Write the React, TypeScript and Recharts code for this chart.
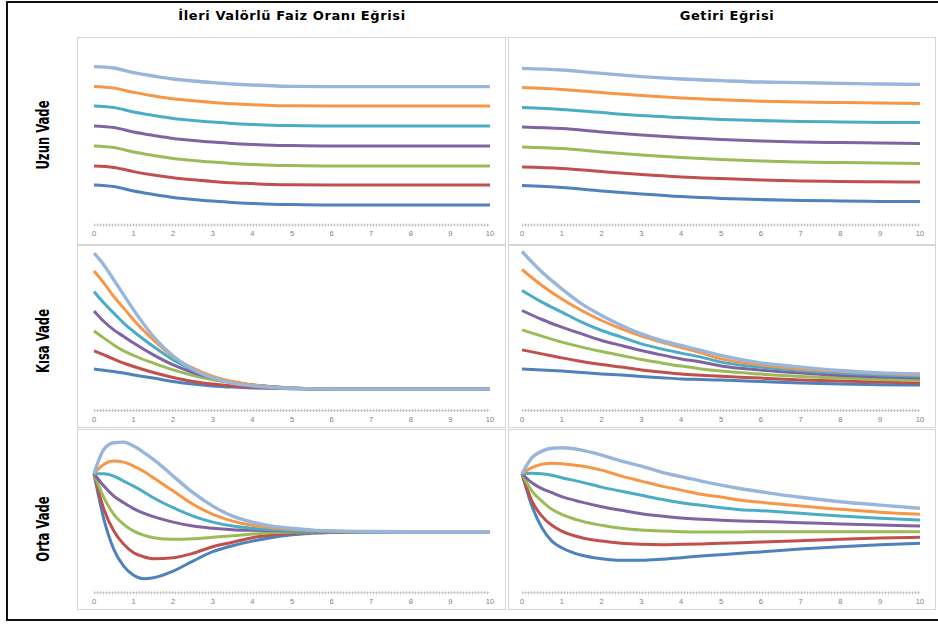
import React from 'react';
import { LineChart, Line, XAxis, YAxis, ReferenceLine } from 'recharts';

// ---------- DATA (arbitrary rate units) ----------
const xTicks = [0, 1, 2, 3, 4, 5, 6, 7, 8, 9, 10];

// Uzun Vade – İleri Valörlü Faiz Oranı Eğrisi
const uzunIleriX = [0, 0.5, 1, 1.5, 2, 2.5, 3, 3.5, 4, 4.5, 5, 6, 7, 8, 9, 10];
const uzunIleriBlue = [2.0, 1.92, 1.7, 1.53, 1.38, 1.28, 1.2, 1.13, 1.08, 1.04, 1.02, 1.0, 1.0, 1.0, 1.0, 1.0];
const uzunIleriRed = [2.95, 2.88, 2.67, 2.5, 2.36, 2.26, 2.18, 2.11, 2.07, 2.03, 2.01, 2.0, 2.0, 2.0, 2.0, 2.0];
const uzunIleriGreen = [3.95, 3.87, 3.65, 3.48, 3.33, 3.23, 3.15, 3.08, 3.03, 2.99, 2.97, 2.95, 2.95, 2.95, 2.95, 2.95];
const uzunIleriPurple = [4.95, 4.87, 4.65, 4.48, 4.33, 4.23, 4.15, 4.08, 4.03, 3.99, 3.97, 3.95, 3.95, 3.95, 3.95, 3.95];
const uzunIleriTeal = [5.95, 5.87, 5.65, 5.48, 5.33, 5.23, 5.15, 5.08, 5.03, 4.99, 4.97, 4.95, 4.95, 4.95, 4.95, 4.95];
const uzunIleriOrange = [6.93, 6.85, 6.63, 6.46, 6.31, 6.21, 6.13, 6.06, 6.01, 5.98, 5.96, 5.95, 5.95, 5.95, 5.95, 5.95];
const uzunIleriLightBlue = [7.92, 7.85, 7.62, 7.45, 7.3, 7.2, 7.12, 7.05, 7.0, 6.96, 6.93, 6.92, 6.92, 6.92, 6.92, 6.92];

// Uzun Vade – Getiri Eğrisi
const uzunGetiriX = [0, 1, 2, 3, 4, 5, 6, 7, 8, 9, 10];
const uzunGetiriBlue = [1.97, 1.87, 1.7, 1.55, 1.42, 1.33, 1.27, 1.23, 1.2, 1.18, 1.17];
const uzunGetiriRed = [2.9, 2.83, 2.67, 2.52, 2.4, 2.32, 2.25, 2.2, 2.18, 2.16, 2.15];
const uzunGetiriGreen = [3.9, 3.82, 3.65, 3.5, 3.38, 3.28, 3.2, 3.15, 3.12, 3.1, 3.08];
const uzunGetiriPurple = [4.9, 4.82, 4.65, 4.5, 4.38, 4.28, 4.2, 4.15, 4.12, 4.1, 4.08];
const uzunGetiriTeal = [5.88, 5.78, 5.62, 5.47, 5.37, 5.28, 5.22, 5.18, 5.15, 5.13, 5.12];
const uzunGetiriOrange = [6.87, 6.78, 6.62, 6.47, 6.35, 6.26, 6.19, 6.15, 6.12, 6.1, 6.08];
const uzunGetiriLightBlue = [7.83, 7.75, 7.58, 7.42, 7.3, 7.22, 7.15, 7.12, 7.08, 7.05, 7.03];

// Kısa Vade – İleri Valörlü Faiz Oranı Eğrisi
const kisaIleriX = [0, 0.25, 0.5, 0.75, 1, 1.5, 2, 2.5, 3, 3.5, 4, 4.5, 5, 5.5, 6, 7, 8, 9, 10];
const kisaIleriBlue = [2.07, 2.01, 1.95, 1.87, 1.78, 1.62, 1.45, 1.32, 1.23, 1.17, 1.13, 1.11, 1.09, 1.08, 1.07, 1.07, 1.07, 1.07, 1.07];
const kisaIleriRed = [2.98, 2.78, 2.57, 2.37, 2.2, 1.9, 1.65, 1.45, 1.32, 1.23, 1.17, 1.13, 1.1, 1.08, 1.07, 1.07, 1.07, 1.07, 1.07];
const kisaIleriGreen = [3.98, 3.62, 3.28, 2.98, 2.75, 2.37, 2.03, 1.75, 1.53, 1.38, 1.27, 1.19, 1.13, 1.09, 1.08, 1.07, 1.07, 1.07, 1.07];
const kisaIleriPurple = [4.98, 4.45, 4.03, 3.7, 3.37, 2.78, 2.28, 1.9, 1.62, 1.42, 1.28, 1.19, 1.13, 1.09, 1.08, 1.07, 1.07, 1.07, 1.07];
const kisaIleriTeal = [5.95, 5.37, 4.87, 4.37, 3.95, 3.2, 2.53, 2.03, 1.65, 1.42, 1.27, 1.18, 1.12, 1.09, 1.08, 1.07, 1.07, 1.07, 1.07];
const kisaIleriOrange = [6.98, 6.37, 5.7, 5.12, 4.53, 3.53, 2.68, 2.12, 1.7, 1.45, 1.28, 1.18, 1.12, 1.09, 1.08, 1.07, 1.07, 1.07, 1.07];
const kisaIleriLightBlue = [7.87, 7.28, 6.53, 5.78, 5.03, 3.7, 2.72, 2.05, 1.63, 1.37, 1.23, 1.15, 1.1, 1.08, 1.07, 1.07, 1.07, 1.07, 1.07];

// Kısa Vade – Getiri Eğrisi
const kisaGetiriX = [0, 0.5, 1, 1.5, 2, 2.5, 3, 3.5, 4, 4.5, 5, 6, 7, 8, 9, 10];
const kisaGetiriBlue = [2.08, 2.03, 1.97, 1.9, 1.83, 1.77, 1.7, 1.64, 1.58, 1.55, 1.52, 1.45, 1.38, 1.33, 1.29, 1.27];
const kisaGetiriRed = [3.03, 2.83, 2.63, 2.45, 2.3, 2.17, 2.03, 1.92, 1.82, 1.76, 1.71, 1.62, 1.53, 1.47, 1.42, 1.38];
const kisaGetiriGreen = [4.03, 3.72, 3.42, 3.17, 2.95, 2.75, 2.55, 2.38, 2.22, 2.08, 1.97, 1.82, 1.7, 1.62, 1.55, 1.5];
const kisaGetiriPurple = [5.0, 4.55, 4.17, 3.83, 3.5, 3.25, 3.0, 2.78, 2.58, 2.42, 2.23, 2.02, 1.87, 1.75, 1.68, 1.63];
const kisaGetiriTeal = [6.0, 5.42, 4.92, 4.42, 4.0, 3.67, 3.33, 3.08, 2.87, 2.67, 2.42, 2.17, 2.0, 1.87, 1.78, 1.72];
const kisaGetiriOrange = [7.05, 6.25, 5.58, 5.0, 4.5, 4.08, 3.72, 3.42, 3.15, 2.88, 2.58, 2.28, 2.08, 1.95, 1.85, 1.78];
const kisaGetiriLightBlue = [7.95, 6.92, 6.08, 5.33, 4.75, 4.25, 3.83, 3.5, 3.25, 3.0, 2.75, 2.38, 2.17, 2.0, 1.88, 1.83];

// Orta Vade – İleri Valörlü Faiz Oranı Eğrisi
const ortaIleriX = [0, 0.25, 0.5, 0.75, 1, 1.25, 1.5, 2, 2.5, 3, 3.5, 4, 4.5, 5, 5.5, 6, 7, 8, 9, 10];
const ortaIleriBlue = [5.95, 3.67, 2.17, 1.33, 0.87, 0.7, 0.75, 1.08, 1.58, 2.05, 2.35, 2.58, 2.76, 2.9, 2.97, 3.01, 3.04, 3.05, 3.05, 3.05];
const ortaIleriRed = [5.95, 4.17, 3.08, 2.42, 2.0, 1.8, 1.7, 1.75, 1.97, 2.3, 2.52, 2.75, 2.88, 2.97, 3.01, 3.03, 3.05, 3.05, 3.05, 3.05];
const ortaIleriGreen = [5.95, 4.75, 3.92, 3.42, 3.08, 2.88, 2.75, 2.67, 2.7, 2.77, 2.85, 2.93, 3.0, 3.03, 3.04, 3.05, 3.05, 3.05, 3.05, 3.05];
const ortaIleriPurple = [5.95, 5.33, 4.83, 4.5, 4.2, 3.98, 3.8, 3.53, 3.33, 3.22, 3.15, 3.12, 3.1, 3.08, 3.07, 3.06, 3.05, 3.05, 3.05, 3.05];
const ortaIleriTeal = [5.95, 5.95, 5.83, 5.58, 5.33, 5.05, 4.75, 4.25, 3.83, 3.53, 3.33, 3.22, 3.15, 3.1, 3.08, 3.07, 3.05, 3.05, 3.05, 3.05];
const ortaIleriOrange = [5.95, 6.42, 6.58, 6.53, 6.33, 6.07, 5.75, 5.08, 4.42, 3.92, 3.58, 3.37, 3.25, 3.17, 3.12, 3.09, 3.06, 3.05, 3.05, 3.05];
const ortaIleriLightBlue = [5.95, 7.17, 7.5, 7.53, 7.33, 7.02, 6.67, 5.83, 5.0, 4.33, 3.83, 3.53, 3.33, 3.22, 3.13, 3.09, 3.06, 3.05, 3.05, 3.05];

// Orta Vade – Getiri Eğrisi
const ortaGetiriX = [0, 0.25, 0.5, 0.75, 1, 1.5, 2, 2.5, 3, 3.5, 4, 4.5, 5, 5.5, 6, 7, 8, 9, 10];
const ortaGetiriBlue = [5.95, 4.33, 3.25, 2.58, 2.25, 1.87, 1.7, 1.62, 1.62, 1.67, 1.75, 1.83, 1.9, 1.97, 2.04, 2.18, 2.3, 2.4, 2.47];
const ortaGetiriRed = [5.95, 4.58, 3.83, 3.37, 3.08, 2.75, 2.58, 2.47, 2.42, 2.4, 2.42, 2.44, 2.47, 2.5, 2.53, 2.6, 2.67, 2.73, 2.77];
const ortaGetiriGreen = [5.95, 5.08, 4.58, 4.17, 3.92, 3.58, 3.37, 3.22, 3.13, 3.08, 3.05, 3.04, 3.04, 3.04, 3.05, 3.05, 3.05, 3.05, 3.05];
const ortaGetiriPurple = [5.95, 5.5, 5.2, 5.0, 4.8, 4.53, 4.3, 4.12, 3.95, 3.83, 3.73, 3.67, 3.62, 3.59, 3.56, 3.5, 3.44, 3.38, 3.33];
const ortaGetiriTeal = [5.95, 5.97, 5.95, 5.87, 5.75, 5.53, 5.28, 5.07, 4.87, 4.67, 4.5, 4.37, 4.25, 4.15, 4.1, 3.97, 3.83, 3.72, 3.63];
const ortaGetiriOrange = [5.95, 6.25, 6.42, 6.47, 6.45, 6.33, 6.13, 5.83, 5.58, 5.33, 5.13, 4.92, 4.78, 4.62, 4.52, 4.33, 4.17, 4.02, 3.92];
const ortaGetiriLightBlue = [5.95, 6.75, 7.08, 7.22, 7.25, 7.13, 6.88, 6.58, 6.33, 6.03, 5.8, 5.58, 5.38, 5.2, 5.05, 4.77, 4.55, 4.38, 4.22];

const columnTitles = ['İleri Valörlü Faiz Oranı Eğrisi', 'Getiri Eğrisi'];
const rowTitles = ['Uzun Vade', 'Kısa Vade', 'Orta Vade'];

// ---------- STYLE / LAYOUT ----------
const SERIES = [
  { key: 'blue', color: '#4F81BD' },
  { key: 'red', color: '#C0504D' },
  { key: 'green', color: '#9BBB59' },
  { key: 'purple', color: '#8064A2' },
  { key: 'teal', color: '#4BACC6' },
  { key: 'orange', color: '#F79646' },
  { key: 'lightBlue', color: '#98B6DC' },
];

function build(x: number[], s: number[][]) {
  return x.map((xv, i) => ({
    x: xv,
    blue: s[0][i],
    red: s[1][i],
    green: s[2][i],
    purple: s[3][i],
    teal: s[4][i],
    orange: s[5][i],
    lightBlue: s[6][i],
  }));
}

const panelData = [
  [
    build(uzunIleriX, [uzunIleriBlue, uzunIleriRed, uzunIleriGreen, uzunIleriPurple, uzunIleriTeal, uzunIleriOrange, uzunIleriLightBlue]),
    build(uzunGetiriX, [uzunGetiriBlue, uzunGetiriRed, uzunGetiriGreen, uzunGetiriPurple, uzunGetiriTeal, uzunGetiriOrange, uzunGetiriLightBlue]),
  ],
  [
    build(kisaIleriX, [kisaIleriBlue, kisaIleriRed, kisaIleriGreen, kisaIleriPurple, kisaIleriTeal, kisaIleriOrange, kisaIleriLightBlue]),
    build(kisaGetiriX, [kisaGetiriBlue, kisaGetiriRed, kisaGetiriGreen, kisaGetiriPurple, kisaGetiriTeal, kisaGetiriOrange, kisaGetiriLightBlue]),
  ],
  [
    build(ortaIleriX, [ortaIleriBlue, ortaIleriRed, ortaIleriGreen, ortaIleriPurple, ortaIleriTeal, ortaIleriOrange, ortaIleriLightBlue]),
    build(ortaGetiriX, [ortaGetiriBlue, ortaGetiriRed, ortaGetiriGreen, ortaGetiriPurple, ortaGetiriTeal, ortaGetiriOrange, ortaGetiriLightBlue]),
  ],
];

const COLS = [
  { x: 77, w: 429, plotL: 94, plotR: 490, titleCx: 292 },
  { x: 508, w: 428, plotL: 522, plotR: 920, titleCx: 727 },
];
const ROWS = [
  { y: 37, h: 208, plotTop: 45, axisY: 225, yMax: 9, labelCy: 135 },
  { y: 245, h: 183, plotTop: 246.5, axisY: 410.5, yMax: 8.2, labelCy: 341 },
  { y: 429, h: 181, plotTop: 432.7, axisY: 592.7, yMax: 8, labelCy: 529 },
];

function Panel({ data, col, row }: any) {
  const margin = {
    top: row.plotTop - row.y,
    left: col.plotL - col.x,
    right: col.x + col.w - col.plotR,
    bottom: 0,
  };
  return (
    <>
      <div style={{ position: 'absolute', left: col.x, top: row.y }}>
        <LineChart width={col.w} height={row.h} data={data} margin={margin}>
          <YAxis hide domain={[0, row.yMax]} type="number" allowDataOverflow />
          <XAxis
            dataKey="x"
            type="number"
            domain={[0, 10]}
            ticks={xTicks}
            interval={0}
            height={row.y + row.h - row.axisY}
            tickLine={false}
            tickSize={4}
            axisLine={{ stroke: '#c4c4c4', strokeWidth: 3, strokeDasharray: '1 2' }}
            tick={{ fontSize: 7.5, fill: '#808080', fontFamily: 'Liberation Sans, Arial, sans-serif' }}
          />
          <ReferenceLine y={0} stroke="#d4d4d4" strokeWidth={1} />
          {SERIES.map((s) => (
            <Line
              key={s.key}
              type="monotone"
              dataKey={s.key}
              stroke={s.color}
              strokeWidth={s.key === 'lightBlue' ? 3.4 : 3}
              dot={false}
              isAnimationActive={false}
            />
          ))}
        </LineChart>
      </div>
      <div
        style={{
          position: 'absolute',
          left: col.x,
          top: row.y,
          width: col.w,
          height: row.h,
          border: '1px solid #d6d6d6',
          boxSizing: 'border-box',
          pointerEvents: 'none',
        }}
      />
    </>
  );
}

export default function App() {
  return (
    <div
      style={{
        position: 'absolute',
        left: 0,
        top: 0,
        width: 938,
        height: 624,
        background: '#fff',
        overflow: 'hidden',
      }}
    >
      <div
        style={{
          position: 'absolute',
          left: 6,
          top: 1,
          width: 940,
          height: 616,
          border: '2px solid #111',
        }}
      />
      {columnTitles.map((t, i) => (
        <div
          key={t}
          style={{
            position: 'absolute',
            left: COLS[i].titleCx - 200,
            top: 7,
            width: 400,
            textAlign: 'center',
            fontFamily: 'DejaVu Sans, Verdana, sans-serif',
            fontWeight: 'bold',
            fontSize: 13,
            letterSpacing: 0.6,
            lineHeight: '18px',
            color: '#000',
          }}
        >
          {t}
        </div>
      ))}
      {rowTitles.map((t, i) => (
        <div
          key={t}
          style={{
            position: 'absolute',
            left: 43 - 60,
            top: ROWS[i].labelCy - 11,
            width: 120,
            height: 22,
            lineHeight: '22px',
            textAlign: 'center',
            transform: 'rotate(-90deg) scaleX(0.76)',
            fontFamily: "'Liberation Sans Narrow', 'Arial Narrow', 'DejaVu Sans Condensed', sans-serif",
            fontWeight: 'bold',
            fontSize: 17,
            color: '#000',
          }}
        >
          {t}
        </div>
      ))}
      {ROWS.map((row, ri) =>
        COLS.map((col, ci) => <Panel key={`${ri}-${ci}`} data={panelData[ri][ci]} col={col} row={row} />)
      )}
    </div>
  );
}
